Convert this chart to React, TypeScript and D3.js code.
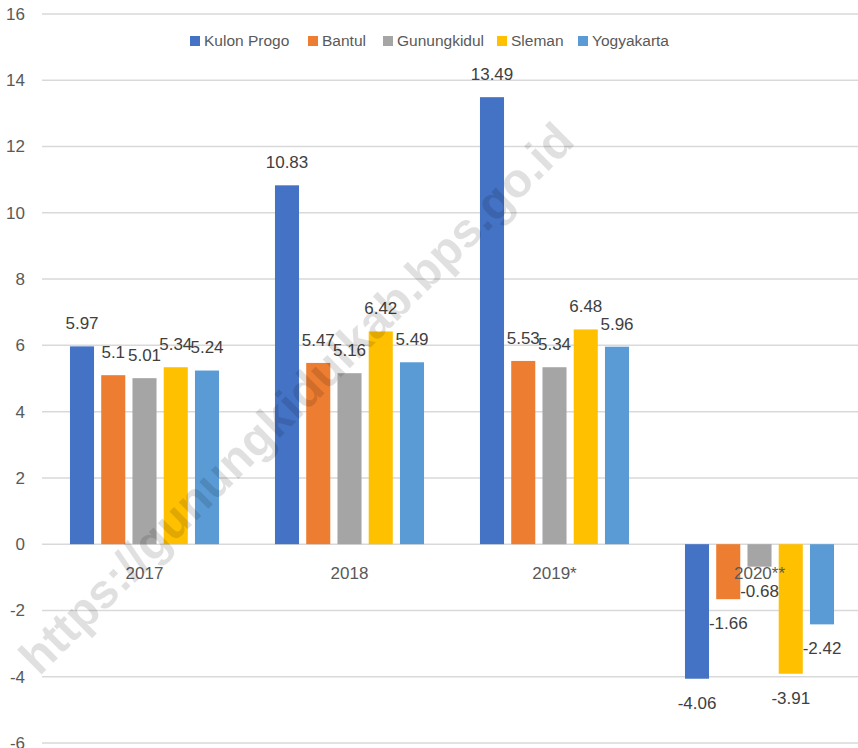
import React from "react";
import * as d3 from "d3";

const categories = ["2017", "2018", "2019*", "2020**"];
const seriesNames = ["Kulon Progo", "Bantul", "Gunungkidul", "Sleman", "Yogyakarta"];
const kulonProgo = [5.97, 10.83, 13.49, -4.06];
const bantul = [5.1, 5.47, 5.53, -1.66];
const gunungkidul = [5.01, 5.16, 5.34, -0.68];
const sleman = [5.34, 6.42, 6.48, -3.91];
const yogyakarta = [5.24, 5.49, 5.96, -2.42];
const yTicks = [-6, -4, -2, 0, 2, 4, 6, 8, 10, 12, 14, 16];
const colors = ["#4472C4", "#ED7D31", "#A5A5A5", "#FFC000", "#5B9BD5"];
const watermark = "https://gunungkidulkab.bps.go.id";

const seriesValues = [kulonProgo, bantul, gunungkidul, sleman, yogyakarta];

const W = 858;
const H = 748;
const FONT = "'Liberation Sans Narrow', 'Liberation Sans', Arial, sans-serif";

export default function App() {
  const plotLeft = 42;
  const plotRight = 862;
  const gridRight = 858;
  const y = d3.scaleLinear().domain([-6, 16]).range([743, 14]);
  const x0 = d3.scaleBand<string>().domain(categories).range([plotLeft, plotRight]).paddingInner(0).paddingOuter(0);
  const x1 = d3
    .scaleBand<string>()
    .domain(seriesNames)
    .range([0, x0.bandwidth()])
    .paddingInner(0.23)
    .paddingOuter(0.895);

  const legendX = [190, 308, 383, 497, 578];
  const legendY = 41;

  return (
    <svg
      width={W}
      height={H}
      style={{ position: "absolute", left: 0, top: 0, background: "#fff" }}
      fontFamily={FONT}
    >
      <rect x={0} y={0} width={W} height={H} fill="#fff" />
      {yTicks.map((t) => (
        <line key={"g" + t} x1={plotLeft} x2={gridRight} y1={y(t)} y2={y(t)} stroke="#d9d9d9" strokeWidth={1.5} />
      ))}
      {yTicks.map((t) => (
        <text key={"t" + t} x={25} y={y(t)} dy="0.35em" textAnchor="end" fontSize={17} fill="#595959">
          {t}
        </text>
      ))}
      {categories.map((c, ci) => (
        <g key={c} transform={`translate(${x0(c)},0)`}>
          {seriesNames.map((s, si) => {
            const v = seriesValues[si][ci];
            const yv = y(v);
            const y0 = y(0);
            return (
              <rect
                key={s}
                x={x1(s)}
                y={Math.min(yv, y0)}
                width={x1.bandwidth()}
                height={Math.abs(yv - y0)}
                fill={colors[si]}
              />
            );
          })}
        </g>
      ))}
      {categories.map((c) => (
        <text
          key={"c" + c}
          x={(x0(c) as number) + x0.bandwidth() / 2}
          y={y(0) + 29}
          dy="0.35em"
          textAnchor="middle"
          fontSize={17}
          fill="#595959"
        >
          {c}
        </text>
      ))}
      {categories.map((c, ci) => (
        <g key={"l" + c} transform={`translate(${x0(c)},0)`}>
          {seriesNames.map((s, si) => {
            const v = seriesValues[si][ci];
            const yy = v >= 0 ? y(v) - 23 : y(v) + 24;
            return (
              <text
                key={s}
                x={(x1(s) as number) + x1.bandwidth() / 2}
                y={yy}
                dy="0.35em"
                textAnchor="middle"
                fontSize={17}
                fill="#404040"
              >
                {String(v)}
              </text>
            );
          })}
        </g>
      ))}
      {seriesNames.map((s, si) => (
        <g key={"lg" + s} transform={`translate(${legendX[si]},${legendY})`}>
          <rect x={0} y={-5} width={10} height={10} fill={colors[si]} />
          <text x={14} y={0} dy="0.35em" fontSize={15.5} fill="#595959">
            {s}
          </text>
        </g>
      ))}
      <text
        transform={`translate(296,398) rotate(-44.8)`}
        textAnchor="middle"
        dy="0.35em"
        fontSize={48}
        fontWeight="bold"
        fontFamily="'Liberation Sans', Arial, sans-serif"
        fill="#000"
        fillOpacity={0.12}
      >
        {watermark}
      </text>
    </svg>
  );
}
